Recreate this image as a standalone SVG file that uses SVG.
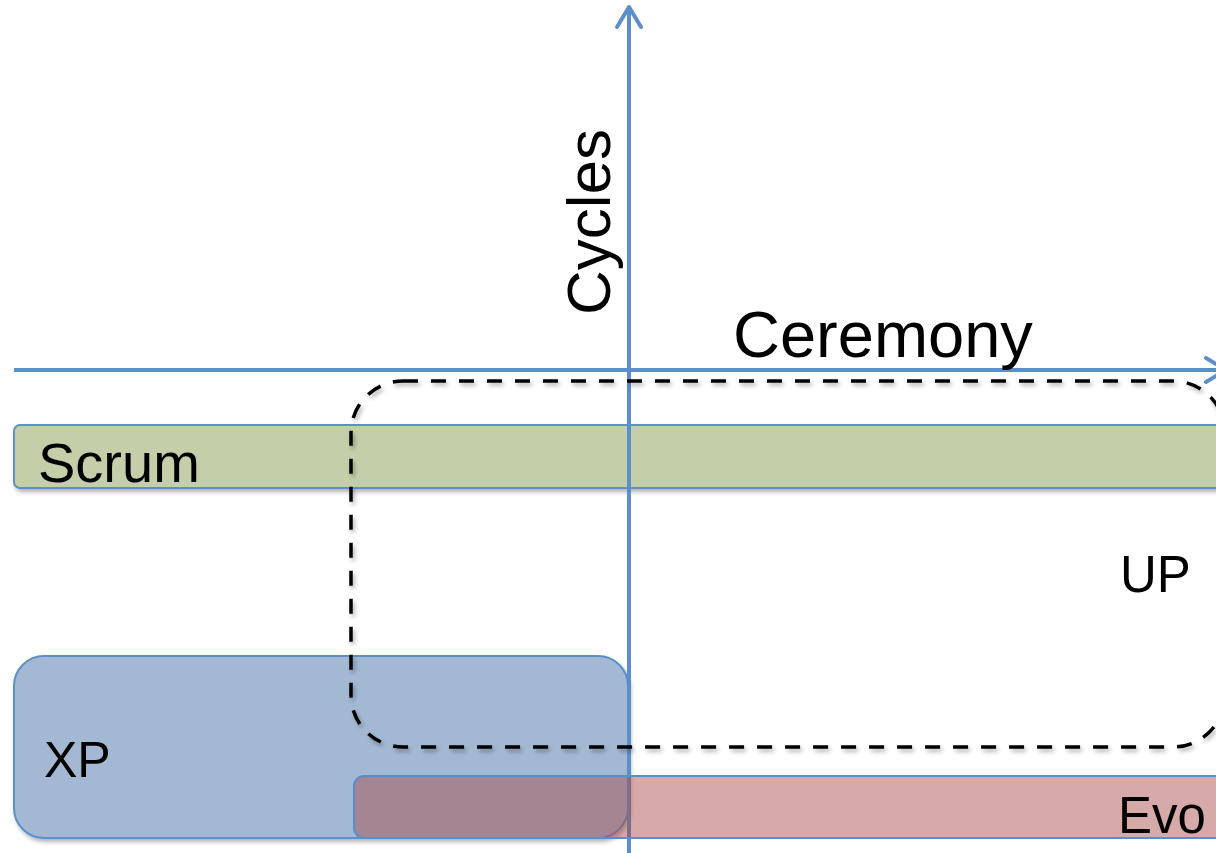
<svg xmlns="http://www.w3.org/2000/svg" width="1216" height="853" viewBox="0 0 1216 853">
  <style>
    .lbl { font-family: "Liberation Sans", Arial, sans-serif; fill: #000; }
    .box { stroke: #5b8fcb; stroke-width: 2; }
    .axis { stroke: #5b8fcb; stroke-width: 4; fill: none; }
  </style>
  <defs>
    <filter id="sh" x="-5%" y="-10%" width="110%" height="130%">
      <feDropShadow dx="2" dy="3" stdDeviation="2" flood-color="#000" flood-opacity="0.3"/>
    </filter>
    <marker id="arr" markerUnits="userSpaceOnUse" markerWidth="40" markerHeight="40" viewBox="-30 -20 40 40" refX="0" refY="0" orient="auto" overflow="visible">
      <path d="M-20,-12 L0,0 L-20,12" fill="none" stroke="#5b8fcb" stroke-width="4" stroke-linecap="round" stroke-linejoin="round"/>
    </marker>
  </defs>
  <rect width="1216" height="853" fill="#fff"/>

  <g id="scrum">
    <rect class="box" x="14" y="425" width="1230" height="63" rx="6" fill="#c4cfaa" filter="url(#sh)"/>
    <text class="lbl" x="38" y="482" font-size="56">Scrum</text>
  </g>

  <g id="xp">
    <rect class="box" x="14" y="656" width="614" height="182" rx="30" fill="#a3b9d3" filter="url(#sh)"/>
    <text class="lbl" x="44" y="777" font-size="50">XP</text>
  </g>

  <g id="connectors">
    <line id="cycles-axis" class="axis" x1="629" y1="853" x2="629" y2="7" marker-end="url(#arr)"/>
  </g>

  <g id="evo">
    <rect class="box" x="354" y="776" width="880" height="62" rx="10" fill="rgb(165,75,71)" fill-opacity="0.47"/>
    <text class="lbl" x="1118" y="833" font-size="51">Evo</text>
  </g>

  <g id="axes">
    <line id="ceremony-axis" class="axis" x1="14" y1="370" x2="1226" y2="370" marker-end="url(#arr)"/>
    <text class="lbl" x="733" y="357" font-size="65">Ceremony</text>
    <text class="lbl" transform="translate(610,315) rotate(-90)" font-size="62">Cycles</text>
  </g>

  <g id="up">
    <rect x="351" y="381" width="874" height="366" rx="52" fill="none" stroke="#000" stroke-width="3.5" stroke-dasharray="15 13" filter="url(#sh)"/>
    <text class="lbl" x="1120" y="592" font-size="51">UP</text>
  </g>
</svg>
